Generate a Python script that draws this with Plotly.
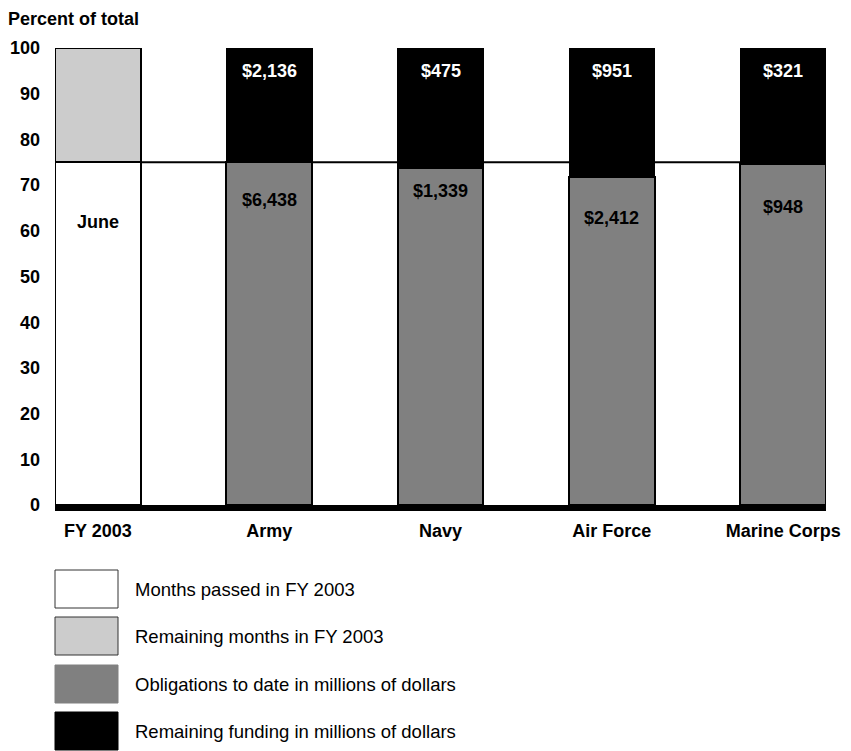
import plotly.graph_objects as go

# ---------------- data ----------------
categories = ["FY 2003", "Army", "Navy", "Air Force", "Marine Corps"]
services = ["Army", "Navy", "Air Force", "Marine Corps"]
months_in_year = 12
months_passed = 9          # October through June
current_month = "June"
obligations = [6438, 1339, 2412, 948]          # millions of dollars
remaining_funding = [2136, 475, 951, 321]      # millions of dollars
y_ticks = [0, 10, 20, 30, 40, 50, 60, 70, 80, 90, 100]

legend_labels = [
    "Months passed in FY 2003",
    "Remaining months in FY 2003",
    "Obligations to date in millions of dollars",
    "Remaining funding in millions of dollars",
]

# ---------------- derived ----------------
passed_pct = months_passed / months_in_year * 100
remain_pct = 100 - passed_pct
oblig_pct = [o / (o + r) * 100 for o, r in zip(obligations, remaining_funding)]
remain_fund_pct = [100 - p for p in oblig_pct]

# ---------------- style ----------------
PAGE_OFF = 8                      # default body margin of the html page
W, H = 851 - PAGE_OFF, 751 - PAGE_OFF
ML, MR, MT, MB = 55 - PAGE_OFF, 25, 48 - PAGE_OFF, 246
PW, PH = W - ML - MR, H - MT - MB
FONT = "Liberation Sans, Arial, sans-serif"
FS = 18
FS_LEG = 18.5
WHITE, LIGHT, MID, DARK = "#ffffff", "#cccccc", "#808080", "#000000"
BAR_W = 0.5
gray_label_drop = [8.4, 5.1, 8.9, 9.5]
black_label_drop = 5.0


def px_x(p):
    return (p - PAGE_OFF - ML) / PW


def px_y(p):
    return (H - MB - (p - PAGE_OFF)) / PH


fig = go.Figure()

fig.add_trace(go.Bar(
    x=[categories[0]], y=[passed_pct], width=BAR_W,
    marker=dict(color=WHITE, line=dict(color=DARK, width=2)),
    hoverinfo="skip", showlegend=False))
fig.add_trace(go.Bar(
    x=[categories[0]], y=[remain_pct], width=BAR_W,
    marker=dict(color=LIGHT, line=dict(color=DARK, width=2)),
    hoverinfo="skip", showlegend=False))
fig.add_trace(go.Bar(
    x=services, y=oblig_pct, width=BAR_W,
    marker=dict(color=MID, line=dict(color=DARK, width=2)),
    hoverinfo="skip", showlegend=False))
fig.add_trace(go.Bar(
    x=services, y=remain_fund_pct, width=BAR_W,
    marker=dict(color=DARK, line=dict(color=DARK, width=1)),
    hoverinfo="skip", showlegend=False))

# reference line at share of year elapsed
fig.add_shape(type="line", xref="x", yref="y", x0=-0.25, x1=4.25,
              y0=passed_pct, y1=passed_pct, layer="below",
              line=dict(color=DARK, width=2))

ann = []
ann.append(dict(x=categories[0], y=passed_pct - 13, text="<b>%s</b>" % current_month,
                showarrow=False, font=dict(family=FONT, size=FS, color=DARK)))
for i, s in enumerate(services):
    ann.append(dict(x=s, y=oblig_pct[i] - gray_label_drop[i],
                    text="<b>$%s</b>" % format(obligations[i], ","),
                    showarrow=False, font=dict(family=FONT, size=FS, color=DARK)))
    ann.append(dict(x=s, y=100 - black_label_drop,
                    text="<b>$%s</b>" % format(remaining_funding[i], ","),
                    showarrow=False, font=dict(family=FONT, size=FS, color=WHITE)))

ann.append(dict(xref="paper", yref="paper", x=px_x(7), y=px_y(PAGE_OFF),
                xanchor="left", yanchor="top", text="<b>Percent of total</b>",
                borderpad=0, showarrow=False, font=dict(family=FONT, size=FS, color=DARK)))

# legend
legend_fills = [WHITE, LIGHT, MID, DARK]
legend_edges = ["#333333", "#333333", MID, DARK]
legend_tops = [570, 617, 665, 712]
for lab, fill, edge, top in zip(legend_labels, legend_fills, legend_edges, legend_tops):
    fig.add_shape(type="rect", xref="paper", yref="paper",
                  x0=px_x(55), x1=px_x(118), y0=px_y(top), y1=px_y(top + 38),
                  fillcolor=fill, line=dict(color=edge, width=1))
    ann.append(dict(xref="paper", yref="paper", x=px_x(133), y=px_y(top + 19),
                    xanchor="left", yanchor="middle", text=lab, showarrow=False,
                    font=dict(family=FONT, size=FS_LEG, color=DARK)))

fig.update_layout(
    width=W, height=H,
    margin=dict(l=ML, r=MR, t=MT, b=MB, autoexpand=False),
    barmode="stack",
    plot_bgcolor="white", paper_bgcolor="white",
    annotations=ann,
    showlegend=False,
    font=dict(family=FONT, size=FS, color=DARK),
    xaxis=dict(type="category", categoryorder="array", categoryarray=categories,
               range=[-0.25, 4.25], showgrid=False, zeroline=False, automargin=False,
               showline=True, linecolor=DARK, linewidth=6, ticks="",
               tickfont=dict(family=FONT, size=FS, color=DARK),
               tickvals=categories, ticktext=["<b>%s</b>" % c for c in categories],
               ticklabelstandoff=4),
    yaxis=dict(range=[0, 100], tickvals=y_ticks, automargin=False,
               ticktext=["<b>%d</b>" % t for t in y_ticks],
               showgrid=False, zeroline=False, showline=False, ticks="",
               tickfont=dict(family=FONT, size=FS, color=DARK),
               ticklabelstandoff=14),
)

fig.write_html("out.html")
